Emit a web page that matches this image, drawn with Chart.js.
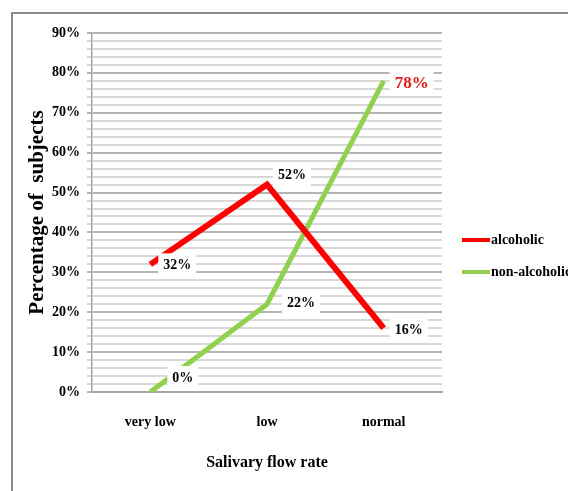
<!DOCTYPE html>
<html>
<head>
<meta charset="utf-8">
<script src="https://cdn.jsdelivr.net/npm/chart.js@4.4.1/dist/chart.umd.min.js"></script>
<style>
  html, body { margin: 0; padding: 0; background: #fff; }
  #wrap { position: relative; width: 568px; height: 491px; }
  #frame { position: absolute; left: 11px; top: 12px; width: 600px; height: 600px;
           border-left: 2px solid #8c8c8c; border-top: 2px solid #8c8c8c; }
  canvas { position: absolute; left: 0; top: 0; }
</style>
</head>
<body>
<div id="wrap">
  <div id="frame"></div>
  <canvas id="chart" width="568" height="491"></canvas>
</div>
<script>
// data
const categories = ['very low', 'low', 'normal'];
const alcoholic = [32, 52, 16];
const nonAlcoholic = [0, 22, 78];
const yMax = 90;
const yStep = 2;

// label placement (text left edge / middle relative to the point)
const alcoholicLabelOffsets = [[13, 1], [11, -9], [11, 2]];
const nonAlcoholicLabelOffsets = [[22, -14], [20, -1], [11, 3]];
const nonAlcoholicLabelColors = ['#000', '#000', '#e31a1a'];

const serif = '"Liberation Serif", "Times New Roman", serif';

const dataLabels = {
  id: 'dataLabels',
  afterDatasetsDraw(chart) {
    const ctx = chart.ctx;
    ctx.save();
    chart.data.datasets.forEach((ds, i) => {
      const meta = chart.getDatasetMeta(i);
      meta.data.forEach((pt, j) => {
        const off = ds.labelOffsets[j];
        const color = ds.labelColors ? ds.labelColors[j] : '#000';
        const big = color !== '#000';
        ctx.font = 'bold ' + (big ? 17 : 14) + 'px ' + serif;
        const txt = ds.data[j] + '%';
        const w = ctx.measureText(txt).width;
        const x = pt.x + off[0];
        const y = pt.y + off[1];
        ctx.fillStyle = '#fff';
        ctx.fillRect(x - 5, y - 12, w + 10, 24);
        ctx.fillStyle = color;
        ctx.textAlign = 'left';
        ctx.textBaseline = 'middle';
        ctx.fillText(txt, x, y);
      });
    });
    ctx.restore();
  }
};

const sideLegend = {
  id: 'sideLegend',
  afterDraw(chart) {
    const ctx = chart.ctx;
    ctx.save();
    ctx.font = 'bold 14px ' + serif;
    ctx.textAlign = 'left';
    ctx.textBaseline = 'middle';
    chart.data.datasets.forEach((ds, i) => {
      const y = 240 + i * 32;
      ctx.strokeStyle = ds.borderColor;
      ctx.lineWidth = 4;
      ctx.beginPath();
      ctx.moveTo(462, y);
      ctx.lineTo(490, y);
      ctx.stroke();
      ctx.fillStyle = '#000';
      ctx.fillText(ds.label, 491, y);
    });
    ctx.restore();
  }
};

new Chart(document.getElementById('chart'), {
  type: 'line',
  data: {
    labels: categories,
    datasets: [{
      label: 'alcoholic',
      data: alcoholic,
      borderColor: '#ff0000',
      borderWidth: 6,
      pointRadius: 0,
      tension: 0,
      labelOffsets: alcoholicLabelOffsets
    }, {
      label: 'non-alcoholic',
      data: nonAlcoholic,
      borderColor: '#92d050',
      borderWidth: 5,
      pointRadius: 0,
      tension: 0,
      labelOffsets: nonAlcoholicLabelOffsets,
      labelColors: nonAlcoholicLabelColors
    }]
  },
  options: {
    responsive: false,
    animation: false,
    layout: { padding: { left: 25, top: 33, right: 126, bottom: 19 } },
    plugins: { legend: { display: false }, tooltip: { enabled: false } },
    scales: {
      x: {
        offset: true,
        grid: { display: false, drawTicks: false },
        border: { display: true, color: '#a6a6a6', width: 2 },
        ticks: { color: '#000', padding: 22, font: { family: serif, size: 14, weight: 'bold' } },
        title: { display: true, text: 'Salivary flow rate', color: '#000', padding: 0,
                 font: { family: serif, size: 16, weight: 'bold' } },
        afterFit(scale) { scale.height = 80; }
      },
      y: {
        min: 0,
        max: yMax,
        grid: {
          color: c => (c.tick && c.tick.value % 10 === 0) ? '#b5b5b5' : '#d8d8d8',
          lineWidth: 2,
          tickLength: 5
        },
        border: { display: true, color: '#a6a6a6', width: 1.5 },
        ticks: {
          stepSize: yStep,
          autoSkip: false,
          padding: 7,
          color: '#000',
          font: { family: serif, size: 14, weight: 'bold' },
          callback: v => v % 10 === 0 ? v + '%' : ''
        },
        title: { display: true, text: 'Percentage of  subjects', color: '#000', padding: 0,
                 font: { family: serif, size: 21, weight: 'bold' } },
        afterFit(scale) { scale.width = 67; }
      }
    }
  },
  plugins: [dataLabels, sideLegend]
});
</script>
</body>
</html>
